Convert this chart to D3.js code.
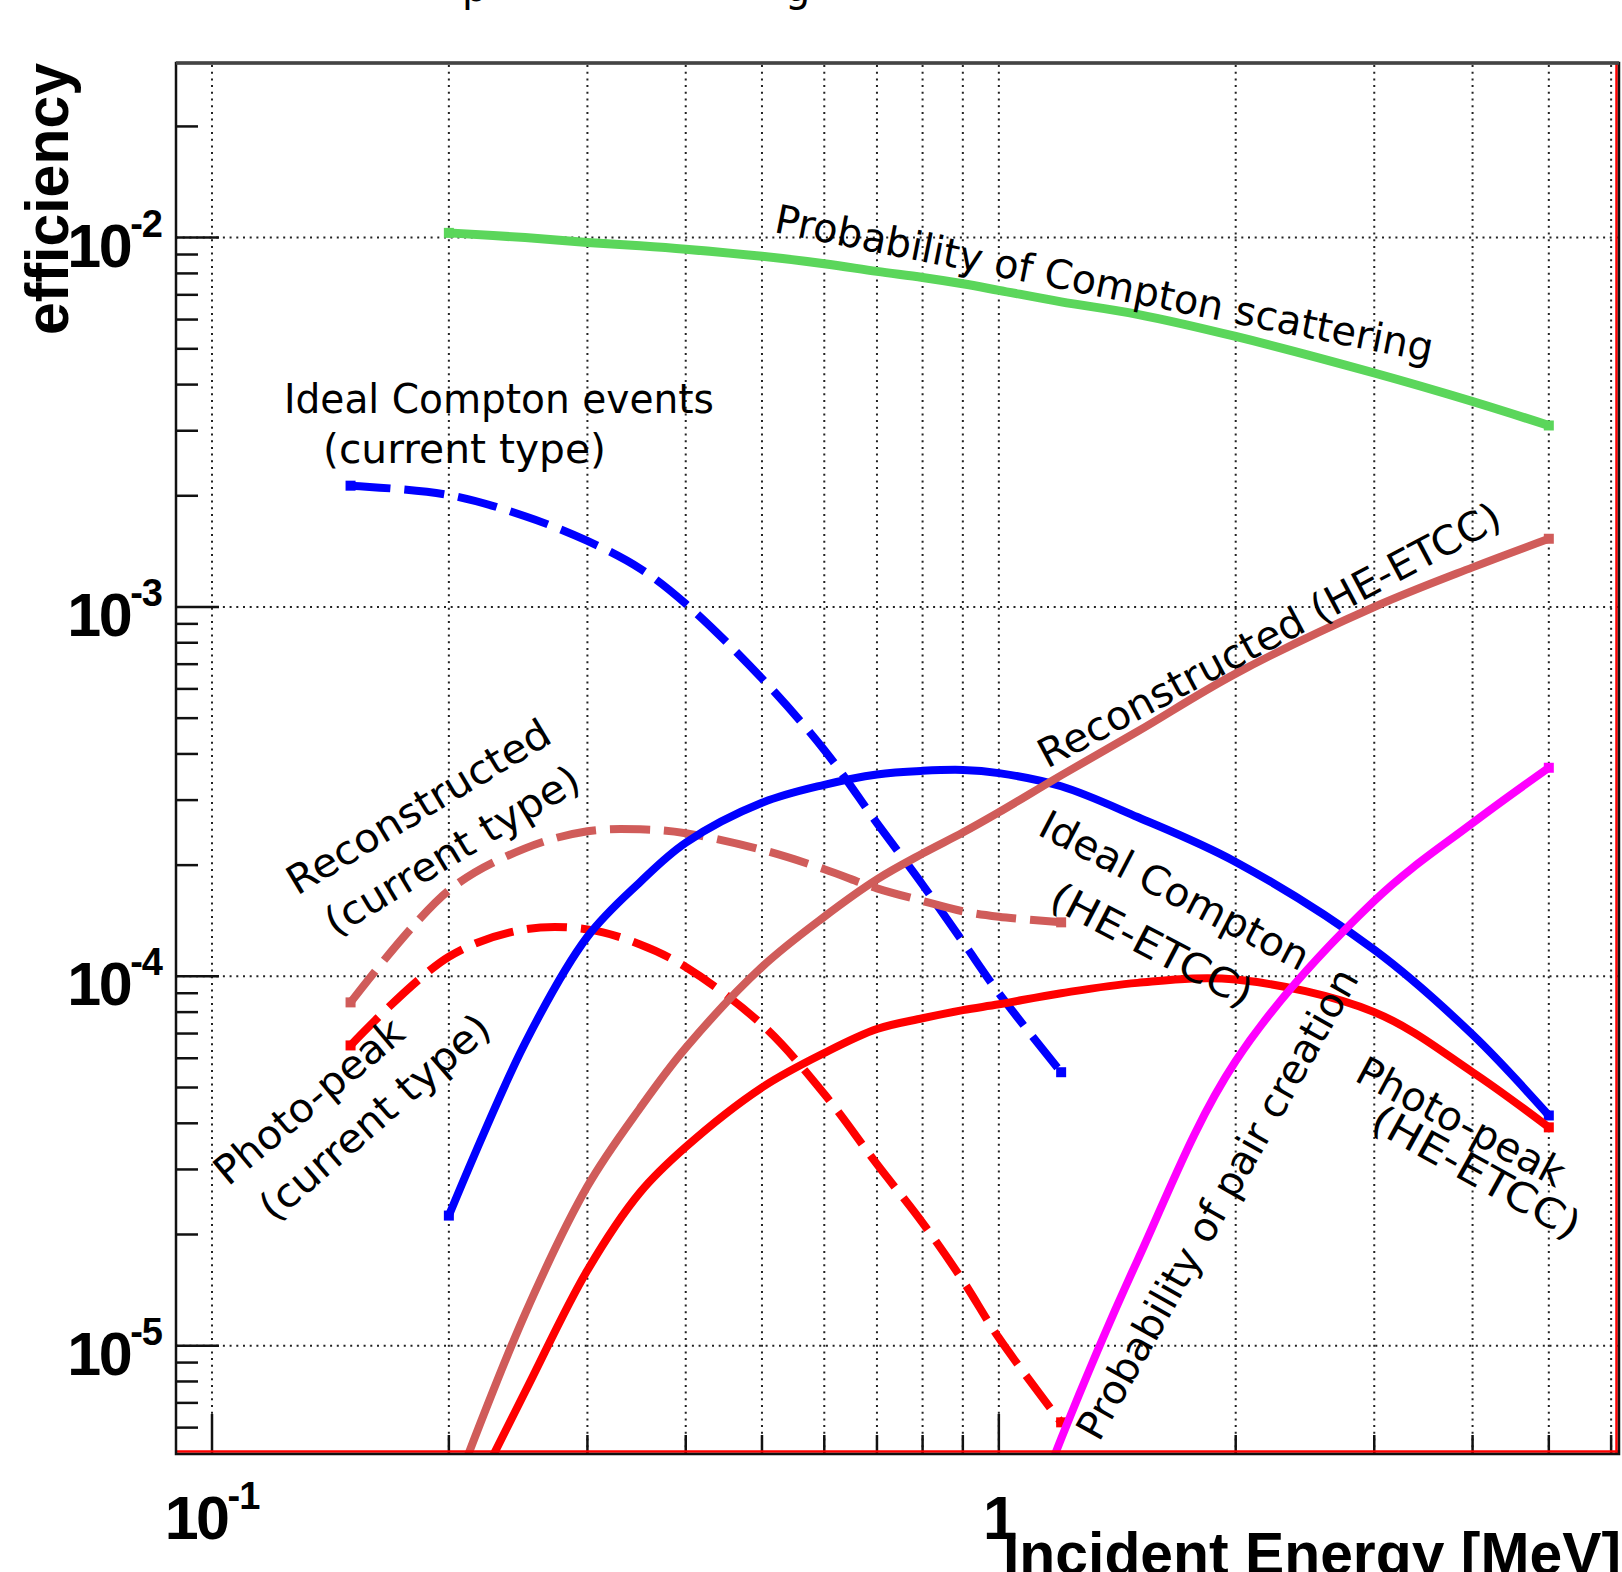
<!DOCTYPE html>
<html>
<head>
<meta charset="utf-8">
<script src="https://cdn.jsdelivr.net/npm/d3@7"></script>
<style>
    body { margin: 0; background: #fff; }
    svg { display: block; }
</style>
</head>
<body>
<svg id="chart" width="1622" height="1572"></svg>
<script>
// energies of the simulated points [MeV]
const energies = [0.15, 0.2, 0.25, 0.3, 0.35, 0.4, 0.5, 0.6, 0.7, 0.8, 0.9, 1.0, 1.2, 1.5, 2, 3, 4, 5];

// efficiencies, null = no point
const comptonProb  = [null, 0.0103, 0.0100, 0.0097, 0.0095, 0.0093, 0.0089, 0.0085, 0.0081, 0.0078, 0.0075, 0.0072, 0.0067, 0.0062, 0.0054, 0.0043, 0.0036, 0.0031];
const idealCurrent = [2.13e-3, 2.01e-3, 1.76e-3, 1.51e-3, 1.27e-3, 1.02e-3, 6.4e-4, 4.1e-4, 2.6e-4, 1.77e-4, 1.24e-4, 9.0e-5, 5.5e-5, null, null, null, null, null];
const recoCurrent  = [8.5e-5, 1.71e-4, 2.22e-4, 2.47e-4, 2.5e-4, 2.44e-4, 2.2e-4, 1.95e-4, 1.73e-4, 1.6e-4, 1.5e-4, 1.45e-4, 1.4e-4, null, null, null, null, null];
const photoCurrent = [6.5e-5, 1.13e-4, 1.34e-4, 1.34e-4, 1.22e-4, 1.06e-4, 7.4e-5, 4.8e-5, 3.1e-5, 2.15e-5, 1.5e-5, 1.05e-5, 6.2e-6, null, null, null, null, null];
const idealHE      = [null, 2.25e-5, 6.6e-5, 1.28e-4, 1.8e-4, 2.3e-4, 2.95e-4, 3.3e-4, 3.52e-4, 3.6e-4, 3.62e-4, 3.55e-4, 3.27e-4, 2.7e-4, 2.04e-4, 1.18e-4, 6.95e-5, 4.2e-5];
const recoHE       = [null, 3.7e-6, 1.22e-5, 2.7e-5, 4.4e-5, 6.4e-5, 1.06e-4, 1.45e-4, 1.83e-4, 2.15e-4, 2.45e-4, 2.78e-4, 3.5e-4, 4.6e-4, 6.6e-4, 1.0e-3, 1.28e-3, 1.53e-3];
const photoHE      = [null, 2.9e-6, 7.5e-6, 1.6e-5, 2.6e-5, 3.45e-5, 5.0e-5, 6.2e-5, 7.2e-5, 7.7e-5, 8.1e-5, 8.4e-5, 9.0e-5, 9.6e-5, 9.8e-5, 8.0e-5, 5.5e-5, 3.9e-5];
const pairProb     = [null, null, null, null, null, null, null, null, null, null, null, null, 5.6e-6, 1.7e-5, 5.9e-5, 1.6e-4, 2.6e-4, 3.67e-4];
// the pair curve leaves the frame just above threshold
const pairStart = [1.15, 4.4e-6];

const xMajor = [0.1, 1];
const xMajorLabels = [["10", "-1"], ["1", ""]];
const xMinor = [0.2, 0.3, 0.4, 0.5, 0.6, 0.7, 0.8, 0.9, 2, 3, 4, 5, 6];
const yMajor = [1e-2, 1e-3, 1e-4, 1e-5];
const yMajorLabels = [["10", "-2"], ["10", "-3"], ["10", "-4"], ["10", "-5"]];

const xTitle = "Incident Energy [MeV]";
const yTitle = "efficiency";

const svg = d3.select("#chart");
const frameL = 176, frameR = 1619, frameT = 63, frameB = 1454;

const x = d3.scaleLog().domain([0.09, 6.14]).range([frameL, frameR]);
const y = d3.scaleLog().domain([5.09e-6, 0.0297]).range([frameB, frameT]);

// clip for the curves
svg.append("defs").append("clipPath").attr("id", "plotclip")
    .append("rect").attr("x", frameL).attr("y", frameT)
    .attr("width", frameR - frameL).attr("height", frameB - frameT);

// grid
let yMinor = [];
for (let d = -6; d <= -2; d++) {
    for (let m = 2; m <= 9; m++) {
        let v = m * Math.pow(10, d);
        if (v > y.domain()[0] && v < y.domain()[1]) yMinor.push(v);
    }
}

const grid = svg.append("g").attr("stroke", "#222").attr("stroke-width", 2)
    .attr("stroke-dasharray", "2,4.7");
grid.selectAll(".vg").data(xMajor.concat(xMinor)).enter().append("line")
    .attr("x1", d => x(d)).attr("x2", d => x(d))
    .attr("y1", frameT + 2).attr("y2", frameB);
grid.selectAll(".hg").data(yMajor).enter().append("line")
    .attr("x1", frameL).attr("x2", frameR)
    .attr("y1", d => y(d)).attr("y2", d => y(d));

// ticks
const ticks = svg.append("g").attr("stroke", "#111").attr("stroke-width", 2.5);
ticks.selectAll(".ym").data(yMajor).enter().append("line")
    .attr("x1", frameL).attr("x2", frameL + 43).attr("y1", d => y(d)).attr("y2", d => y(d));
ticks.selectAll(".yn").data(yMinor).enter().append("line")
    .attr("x1", frameL).attr("x2", frameL + 22).attr("y1", d => y(d)).attr("y2", d => y(d));
ticks.selectAll(".xm").data(xMajor).enter().append("line")
    .attr("x1", d => x(d)).attr("x2", d => x(d)).attr("y1", frameB).attr("y2", frameB - 40);
ticks.selectAll(".xn").data(xMinor).enter().append("line")
    .attr("x1", d => x(d)).attr("x2", d => x(d)).attr("y1", frameB).attr("y2", frameB - 19);

// curves
const series = [
    {v: comptonProb,  color: "#5bd65b", dash: null, w: 9},
    {v: idealCurrent, color: "#0000ff", dash: "40,14", w: 8},
    {v: recoCurrent,  color: "#d05c5a", dash: "40,14", w: 8},
    {v: photoCurrent, color: "#ff0000", dash: "40,14", w: 8},
    {v: idealHE,      color: "#0000ff", dash: null, w: 8},
    {v: recoHE,       color: "#d05c5a", dash: null, w: 8},
    {v: photoHE,      color: "#ff0000", dash: null, w: 8},
    {v: pairProb,     color: "#ff00ff", dash: null, w: 8, first: pairStart}
];

const line = d3.line()
    .x(d => x(d[0])).y(d => y(d[1]))
    .curve(d3.curveCatmullRom.alpha(0.5));

const curves = svg.append("g").attr("clip-path", "url(#plotclip)");
series.forEach(s => {
    let pts = [];
    if (s.first) pts.push(s.first);
    energies.forEach((e, i) => { if (s.v[i] !== null) pts.push([e, s.v[i]]); });
    curves.append("path")
        .attr("d", line(pts))
        .attr("fill", "none")
        .attr("stroke", s.color)
        .attr("stroke-width", s.w)
        .attr("stroke-dasharray", s.dash);
    // square markers at the two ends of each graph
    let ends = [pts[0], pts[pts.length - 1]];
    curves.selectAll(null).data(ends).enter().append("rect")
        .attr("x", d => x(d[0]) - 5).attr("y", d => y(d[1]) - 5)
        .attr("width", 10).attr("height", 10)
        .attr("fill", s.color);
});

// frame
svg.append("line").attr("x1", frameL).attr("x2", frameR).attr("y1", frameB - 2.5).attr("y2", frameB - 2.5)
    .attr("stroke", "#ff0000").attr("stroke-width", 2.5);
svg.append("line").attr("x1", frameR - 2.5).attr("x2", frameR - 2.5).attr("y1", frameT).attr("y2", frameB)
    .attr("stroke", "#ff0000").attr("stroke-width", 2.5);
svg.append("rect").attr("x", frameL).attr("y", frameT)
    .attr("width", frameR - frameL).attr("height", frameB - frameT)
    .attr("fill", "none").attr("stroke", "#111").attr("stroke-width", 2.5);
svg.append("line").attr("x1", frameL).attr("x2", frameR).attr("y1", frameT).attr("y2", frameT)
    .attr("stroke", "#444").attr("stroke-width", 3.5);

// tick labels
const labelFont = "'Liberation Sans', Arial, Helvetica, sans-serif";
yMajor.forEach((v, i) => {
    let t = svg.append("text")
        .attr("x", 162).attr("y", y(v) + 29)
        .attr("text-anchor", "end")
        .attr("font-family", labelFont).attr("font-weight", "bold")
        .attr("font-size", 61).attr("letter-spacing", -2.5);
    t.append("tspan").text(yMajorLabels[i][0]);
    t.append("tspan").attr("dy", -30).attr("font-size", 38).attr("letter-spacing", -1).text(yMajorLabels[i][1]);
});
xMajor.forEach((v, i) => {
    let t = svg.append("text")
        .attr("x", x(v)).attr("y", 1539)
        .attr("text-anchor", "middle")
        .attr("font-family", labelFont).attr("font-weight", "bold")
        .attr("font-size", 61).attr("letter-spacing", -2.5);
    t.append("tspan").text(xMajorLabels[i][0]);
    if (xMajorLabels[i][1]) t.append("tspan").attr("dy", -30).attr("font-size", 38).attr("letter-spacing", -1).text(xMajorLabels[i][1]);
});

// axis titles
svg.append("text")
    .attr("x", 1621).attr("y", 1574)
    .attr("text-anchor", "end")
    .attr("font-family", labelFont).attr("font-weight", "bold")
    .attr("font-size", 60).attr("textLength", 618).attr("lengthAdjust", "spacingAndGlyphs")
    .text(xTitle);
svg.append("text")
    .attr("transform", "translate(68,335) rotate(-90)")
    .attr("font-family", labelFont).attr("font-weight", "bold")
    .attr("font-size", 62).attr("textLength", 272).attr("lengthAdjust", "spacingAndGlyphs")
    .text(yTitle);

// handwritten notes on the plot
const notes = [
    {t: "Probability of Compton scattering", x: 773, y: 232, a: 11.2, len: 670},
    {t: "Ideal Compton events", x: 284, y: 413, a: 0, len: 430},
    {t: "(current type)", x: 323, y: 463, a: 0, len: 283},
    {t: "Reconstructed (HE-ETCC)", x: 1047, y: 769, a: -28, len: 518},
    {t: "Ideal Compton", x: 1036, y: 834, a: 27.5, len: 298},
    {t: "(HE-ETCC)", x: 1047, y: 906, a: 27.5, len: 222},
    {t: "Reconstructed", x: 297, y: 896, a: -31, len: 300},
    {t: "(current type)", x: 335, y: 937, a: -31, len: 290},
    {t: "Photo-peak", x: 228, y: 1187, a: -40, len: 234},
    {t: "(current type)", x: 274, y: 1223, a: -41, len: 291},
    {t: "Probability of pair creation", x: 1099, y: 1443, a: -60.7, len: 533},
    {t: "Photo-peak", x: 1353, y: 1080, a: 28, len: 230},
    {t: "(HE-ETCC)", x: 1368, y: 1128, a: 29, len: 232}
];
const noteFont = "'DejaVu Sans', 'Noto Sans', sans-serif";
notes.forEach(n => {
    svg.append("text")
        .attr("transform", "translate(" + n.x + "," + n.y + ") rotate(" + n.a + ")")
        .attr("font-family", noteFont).attr("font-size", 40)
        .attr("textLength", n.len).attr("lengthAdjust", "spacingAndGlyphs")
        .attr("fill", "#000")
        .text(n.t);
});

// bits of the title that is cut off above the picture
svg.append("text").attr("x", 462).attr("y", 1).attr("font-family", noteFont).attr("font-size", 40).text("p");
svg.append("text").attr("x", 785).attr("y", 1).attr("font-family", noteFont).attr("font-size", 40).text("g");
</script>
</body>
</html>
